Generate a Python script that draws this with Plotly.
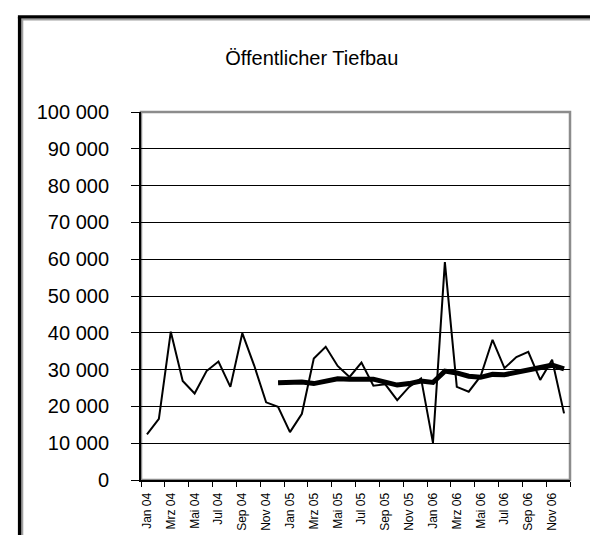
import plotly.graph_objects as go

MONTH_NAMES = ["Jan", "Feb", "Mrz", "Apr", "Mai", "Jun", "Jul", "Aug", "Sep", "Okt", "Nov", "Dez"]
YEARS = ["04", "05", "06"]
months = [f"{m} {y}" for y in YEARS for m in MONTH_NAMES]

# monthly values
monthly = [
    12400, 16600, 40300, 26900, 23500, 29600, 32200, 25300, 39900, 31100, 21100, 19900,
    13000, 18000, 33000, 36200, 31000, 28000, 31900, 25600, 26000, 21700, 25300, 27600,
    10100, 59200, 25300, 24000, 28200, 38100, 30400, 33400, 34800, 27200, 32700, 18100,
]
# 12-month moving average, starts in Dez 04
moving_avg = [None] * 11 + [
    26400, 26600, 26600, 26200, 26800, 27500, 27400, 27400, 27400, 26600, 25800, 26200,
    26900, 26500, 29600, 29100, 28200, 27900, 28700, 28600, 29300, 30100, 30500, 31200, 30200,
]

y_ticks = list(range(0, 100001, 10000))

W, H = 598, 535
L, R, T, B = 133, 36, 104, 58
PW, PH = W - L - R, H - T - B


def px_x(px):
    return (px - L) / PW


def px_y(py):
    return (H - B - py) / PH


x = list(range(len(months)))

fig = go.Figure()
fig.add_trace(
    go.Scatter(
        x=x, y=moving_avg, mode="lines", name="gleitender Durchschnitt",
        line={"color": "black", "width": 5},
    )
)
fig.add_trace(
    go.Scatter(
        x=x, y=monthly, mode="lines", name="Monatswerte",
        line={"color": "black", "width": 2},
    )
)

# plot area border (gray) and outer chart frame (black with a gray inner edge)
shapes = [
    dict(type="rect", xref="paper", yref="paper", x0=0, x1=1, y0=0, y1=1,
         line={"color": "#8c8c8c", "width": 2.5}, layer="below"),
    dict(type="line", xref="paper", yref="paper", x0=px_x(14.3), x1=px_x(14.3),
         y0=px_y(10.3), y1=px_y(560), line={"color": "#a0a0a0", "width": 2}),
    dict(type="line", xref="paper", yref="paper", x0=px_x(13.3), x1=px_x(592),
         y0=px_y(10.3), y1=px_y(10.3), line={"color": "#a0a0a0", "width": 2}),
    dict(type="line", xref="paper", yref="paper", x0=px_x(11.6), x1=px_x(11.6),
         y0=px_y(7.6), y1=px_y(560), line={"color": "black", "width": 3.4}),
    dict(type="line", xref="paper", yref="paper", x0=px_x(9.9), x1=px_x(598),
         y0=px_y(7.6), y1=px_y(7.6), line={"color": "black", "width": 3.4}),
    dict(type="line", xref="paper", yref="paper", x0=px_x(595), x1=px_x(595),
         y0=px_y(5.9), y1=px_y(560), line={"color": "black", "width": 6}),
]

fig.update_layout(
    width=W,
    height=H,
    margin={"l": L, "r": R, "t": T, "b": B},
    paper_bgcolor="white",
    plot_bgcolor="white",
    showlegend=False,
    separators=", ",
    font={"family": "Liberation Sans, Arial, sans-serif", "color": "black"},
    title={
        "text": "Öffentlicher Tiefbau",
        "x": 0.508,
        "xanchor": "center",
        "y": 1 - 50 / H,
        "yanchor": "middle",
        "font": {"size": 20},
    },
    shapes=shapes,
    xaxis={
        "range": [-0.5, len(months) - 0.5],
        "tickmode": "array",
        "tickvals": x[::2],
        "ticktext": months[::2],
        "tickangle": -90,
        "ticks": "",
        "ticklabelstandoff": 6,
        "tickfont": {"size": 12},
        "showgrid": False,
        "zeroline": False,
        "showline": True,
        "linecolor": "black",
        "linewidth": 2,
        "minor": {
            "tick0": -0.5,
            "dtick": 2,
            "ticks": "outside",
            "ticklen": 5,
            "tickcolor": "black",
            "tickwidth": 1,
            "showgrid": False,
        },
    },
    yaxis={
        "range": [0, 100000],
        "tickmode": "array",
        "tickvals": y_ticks,
        "tickformat": ",d",
        "ticks": "outside",
        "ticklen": 8,
        "tickcolor": "black",
        "ticklabelstandoff": 18,
        "tickfont": {"size": 20},
        "showgrid": True,
        "gridcolor": "black",
        "gridwidth": 1,
        "zeroline": False,
        "showline": True,
        "linecolor": "black",
        "linewidth": 2,
    },
)

fig.write_html("out.html")
